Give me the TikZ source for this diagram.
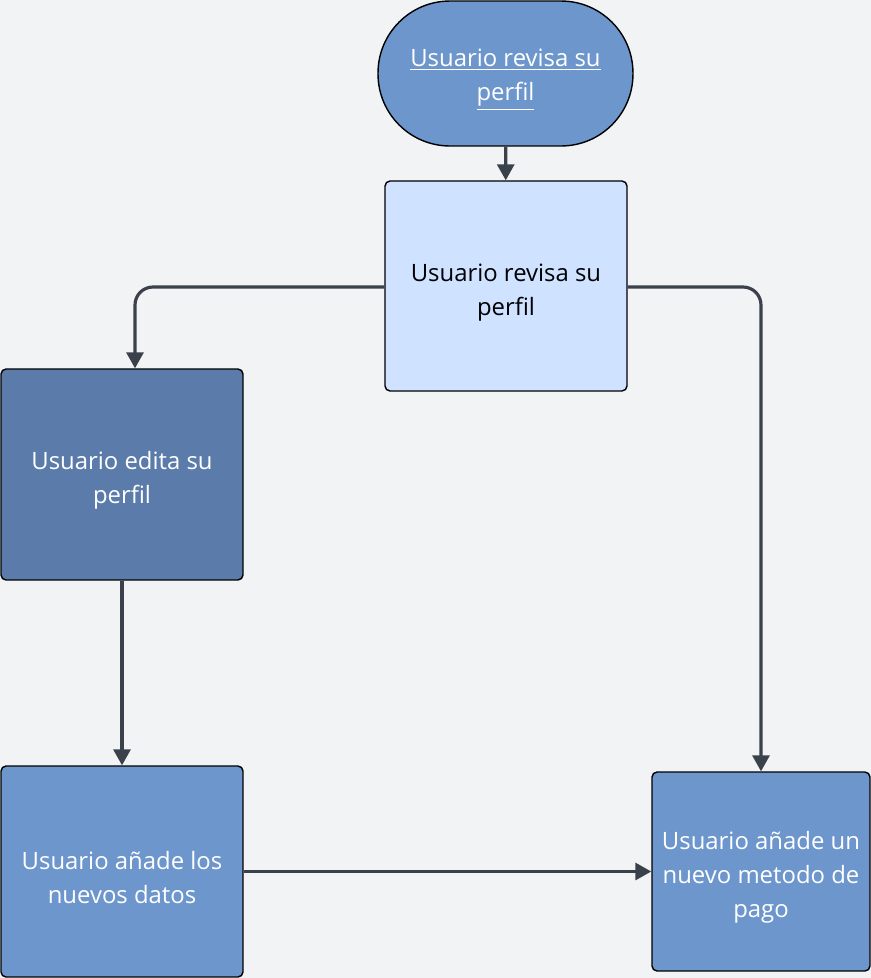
\documentclass[tikz,border=0pt]{standalone}
\usepackage{fontspec}
\setmainfont{Open Sans}
\usetikzlibrary{arrows.meta}

\definecolor{bgcol}{HTML}{F2F3F5}
\definecolor{linecol}{HTML}{3B414B}
\definecolor{startcol}{HTML}{6C96CC}
\definecolor{revcol}{HTML}{CFE2FF}
\definecolor{editcol}{HTML}{5B7CAA}
\definecolor{datcol}{HTML}{6D96CD}

% pushes the lines of a box down a little
\newcommand{\lowtop}{\rule{0pt}{0.6cm}}

\begin{document}
\begin{tikzpicture}[x=0.02cm,y=-0.02cm]
\useasboundingbox[fill=bgcol] (0,0) rectangle (871,978);

\begin{scope}[every node/.style={draw=black,thick,rounded corners=0.1cm,align=center,
                                 font=\fontsize{13.6}{19.3}\selectfont,inner sep=0pt}]
    \node [fill=startcol,text=white,rounded corners=1.44cm,minimum width=5.1cm,minimum height=2.9cm]
        (start) at (505.5,73.5) {\lowtop\underline{Usuario revisa su}\\\underline{perfil}};
    \node [fill=revcol,minimum width=4.84cm,minimum height=4.2cm]
        (revisa) at (506,286) {\lowtop Usuario revisa su\\perfil};
    \node [fill=editcol,text=white,minimum width=4.84cm,minimum height=4.22cm]
        (edita) at (122,474.5) {\lowtop Usuario edita su\\perfil};
    \node [fill=datcol,text=white,minimum width=4.84cm,minimum height=4.22cm]
        (datos) at (122,871.5) {\lowtop Usuario añade los\\nuevos datos};
    \node [fill=datcol,text=white,minimum width=4.36cm,minimum height=3.98cm]
        (pago) at (761,871.5) {\lowtop Usuario añade un\\nuevo metodo de\\pago};
\end{scope}

\begin{scope}[>={Triangle[length=0.32cm,width=0.34cm]},
              flow/.style={draw=linecol,line width=1.8pt,->}]
    \draw [flow] (start) -- (revisa);
    \draw [flow,rounded corners=0.36cm] (revisa.west |- 0,287) -| (135,0 |- edita.north);
    \draw [flow,rounded corners=0.36cm] (revisa.east |- 0,287) -| (761,0 |- pago.north);
    \draw [flow] (edita) -- (datos);
    \draw [flow] (datos) -- (pago);
\end{scope}
\end{tikzpicture}
\end{document}
